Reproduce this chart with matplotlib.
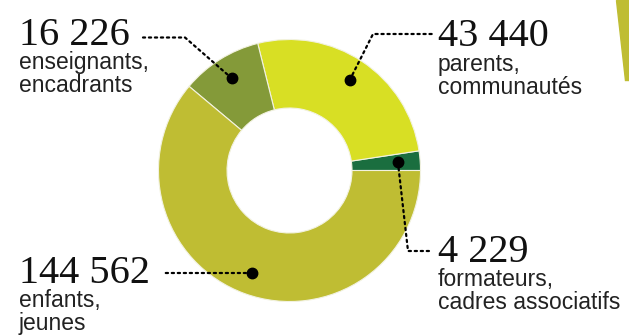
import numpy as np
import matplotlib.pyplot as plt
from matplotlib.patches import Polygon

# slices in drawing order (counter-clockwise from 3 o'clock)
counts = [4229, 43440, 16226, 144562]
captions = [['formateurs,', 'cadres associatifs'],
            ['parents,', 'communautés'],
            ['enseignants,', 'encadrants'],
            ['enfants,', 'jeunes']]
# share of the ring as drawn in the source graphic (%)
shares = [2.4, 26.5, 10.0, 61.1]
colors = ['#1a6e3f', '#d8df24', '#849a39', '#bfbd33']

W, H = 629, 336

# label layout, in pixels from the top-left corner
num_pos = [(438, 262), (438, 46.5), (19, 45), (19, 283)]
elbows = [(408, 251), (373, 34), (185, 37.5), None]
line_end_x = [432, 432, 143, 162]


def px(x, y):
    return x, H - y


fig = plt.figure(figsize=(W / 100, H / 100), dpi=100)
ax = fig.add_axes([0, 0, 1, 1])

cx, cy = px(289.5, 170.5)
r_out, r_in = 131, 62.5
wedges, _ = ax.pie(shares, colors=colors, startangle=0, radius=r_out, center=(cx, cy),
                   wedgeprops=dict(width=r_out - r_in, edgecolor='#f2f2e0', linewidth=0.8))

ax.set_xlim(0, W)
ax.set_ylim(0, H)
ax.set_aspect('auto')
ax.axis('off')

for i, w in enumerate(wedges):
    mid = np.deg2rad((w.theta1 + w.theta2) / 2)
    dot = (cx + 0.83 * r_out * np.cos(mid), cy + 0.83 * r_out * np.sin(mid))
    pts = [dot]
    if elbows[i] is not None:
        ex, ey = px(*elbows[i])
        pts += [(ex, ey), (line_end_x[i], ey)]
    else:
        pts.append((line_end_x[i], dot[1]))
    xs, ys = zip(*pts)
    ax.plot(xs, ys, color='black', lw=1.6, ls=(0, (1, 1.7)), dash_capstyle='round')
    ax.plot(*dot, 'o', color='black', ms=7.5)

    nx, ny = num_pos[i]
    label = f'{counts[i]:,}'.replace(',', ' ')
    ax.text(*px(nx, ny), label, family='Liberation Serif', fontsize=29,
            color='#111111', va='baseline', ha='left')
    for j, line in enumerate(captions[i]):
        ax.text(*px(nx, ny + 24 + 23 * j), line, family='Liberation Sans',
                fontsize=16.5, color='#222222', va='baseline', ha='left')

# sliver of the neighbouring graphic at the top-right edge
fig.patches.append(Polygon([(616 / W, 1), (1, 1), (1, 1 - 80 / H), (625 / W, 1 - 80 / H)],
                           closed=True, transform=fig.transFigure, color='#bfbd33'))

fig.savefig('out.png', dpi=100)
